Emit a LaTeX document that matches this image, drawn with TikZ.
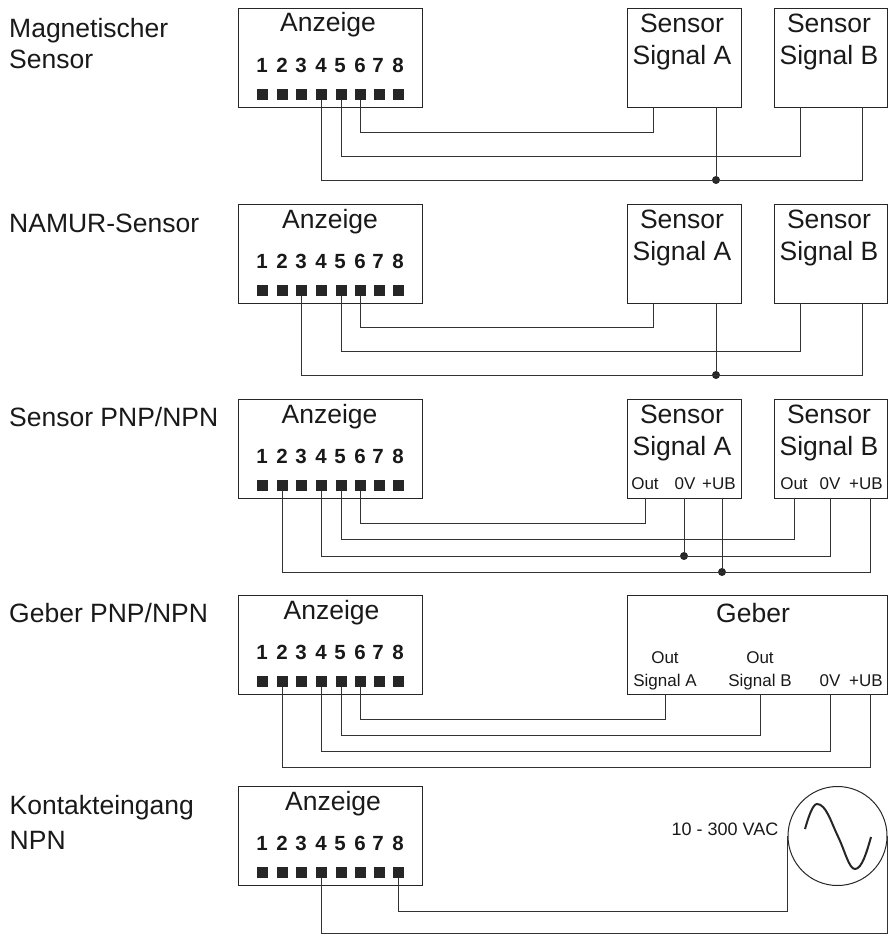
\documentclass[tikz,border=0pt]{standalone}
\usepackage{fontspec}
\setmainfont{Liberation Sans}
\tikzset{
  ink/.style={text=black!90},
  frame/.style={draw=black!85,line width=1pt,rectangle,inner sep=0pt,anchor=north west},
  pinbox/.style={fill=black!85,rectangle,minimum size=11pt,inner sep=0pt},
  wire/.style={draw=black!80,line width=1pt},
  dotmark/.style={fill=black!85,circle,minimum size=8pt,inner sep=0pt},
  big/.style={ink,inner sep=0pt,anchor=base,font=\fontsize{26.5}{30}\selectfont},
  side/.style={ink,inner sep=0pt,anchor=base west,font=\fontsize{26.5}{30}\selectfont},
  small/.style={ink,inner sep=0pt,anchor=base,font=\fontsize{17}{20}\selectfont},
  digit/.style={ink,inner sep=0pt,anchor=base,font=\fontsize{20.5}{24}\selectfont\bfseries},
}
% #1 prefix, #2 top, #3 centre of title
\newcommand{\anzeigebox}[3]{%
  \node[frame,minimum width=184pt,minimum height=99pt] (#1) at (238,#2) {};
  \node[big] (#1t) at (#3,#2+24) {Anzeige};
  \foreach \n/\x in {1/262,2/282,3/301,4/321,5/340,6/360,7/378,8/398}{
    \node[digit] (#1n\n) at (\x,#2+64) {\n};
  }
  \foreach \n/\x in {1/262,2/282,3/301,4/321,5/341,6/360,7/379,8/398}{
    \node[pinbox] (#1p\n) at (\x,#2+86) {};
  }%
}
% #1 name, #2 x, #3 top, #4 width, #5 letter, #6 text centre
\newcommand{\sensorbox}[6]{%
  \node[frame,minimum width=#4pt,minimum height=99pt] (#1) at (#2,#3) {};
  \node[big] (#1t) at (#6,#3+24.5) {Sensor};
  \node[big] (#1s) at (#6,#3+56) {Signal #5};
}
\begin{document}
\begin{tikzpicture}[x=1pt,y=-1pt]
\useasboundingbox (0,0) rectangle (888,934);
% side labels
\node[side] (l1a) at (9,38) {Magnetischer};
\node[side] (l1b) at (9,69) {Sensor};
\node[side] (l2) at (9,232) {NAMUR-Sensor};
\node[side] (l3) at (9,426) {Sensor PNP/NPN};
\node[side] (l4) at (9,622) {Geber PNP/NPN};
\node[side] (l5a) at (9.5,814) {Kontakteingang};
\node[side] (l5b) at (9.5,849) {NPN};
% panel 1
\anzeigebox{a1}{8}{328}
\sensorbox{sa1}{627}{8}{114}{A}{682}
\sensorbox{sb1}{774}{8}{113}{B}{829}
\coordinate (sa1o) at (653,107);
\coordinate (sa1z) at (716,107);
\coordinate (sb1o) at (800,107);
\coordinate (sb1z) at (862,107);
\node[dotmark] (j1) at (716,180) {};
\draw[wire] (a1p6) -- (a1p6 |- 0,132) -| (sa1o);
\draw[wire] (a1p5) -- (a1p5 |- 0,156) -| (sb1o);
\draw[wire] (a1p4) -- (a1p4 |- 0,180) -| (sb1z);
\draw[wire] (sa1z) -- (j1);
% panel 2
\anzeigebox{a2}{204}{330}
\sensorbox{sa2}{627}{204}{114}{A}{682}
\sensorbox{sb2}{774}{204}{113}{B}{829}
\coordinate (sa2o) at (653,303);
\coordinate (sa2z) at (716,303);
\coordinate (sb2o) at (800,303);
\coordinate (sb2z) at (862,303);
\node[dotmark] (j2) at (716,375) {};
\draw[wire] (a2p6) -- (a2p6 |- 0,327) -| (sa2o);
\draw[wire] (a2p5) -- (a2p5 |- 0,351) -| (sb2o);
\draw[wire] (a2p3) -- (a2p3 |- 0,375) -| (sb2z);
\draw[wire] (sa2z) -- (j2);
% panel 3
\anzeigebox{a3}{399}{329.5}
\sensorbox{sa3}{627}{399}{114}{A}{682}
\sensorbox{sb3}{774}{399}{113}{B}{829}
\node[small] (sa3l1) at (645,489) {Out};
\node[small] (sa3l2) at (685,489) {0V};
\node[small] (sa3l3) at (719,489) {+UB};
\node[small] (sb3l1) at (794,489) {Out};
\node[small] (sb3l2) at (830,489) {0V};
\node[small] (sb3l3) at (866,489) {+UB};
\coordinate (sa3o) at (645,498);
\coordinate (sa3z) at (684,498);
\coordinate (sa3u) at (722,498);
\coordinate (sb3o) at (794,498);
\coordinate (sb3z) at (830,498);
\coordinate (sb3u) at (870,498);
\node[dotmark] (j3a) at (684,556) {};
\node[dotmark] (j3b) at (722,572) {};
\draw[wire] (a3p6) -- (a3p6 |- 0,523) -| (sa3o);
\draw[wire] (a3p5) -- (a3p5 |- 0,539) -| (sb3o);
\draw[wire] (a3p4) -- (a3p4 |- 0,556) -| (sb3z);
\draw[wire] (a3p2) -- (a3p2 |- 0,572) -| (sb3u);
\draw[wire] (sa3z) -- (j3a);
\draw[wire] (sa3u) -- (j3b);
% panel 4
\anzeigebox{a4}{595}{331.5}
\node[frame,minimum width=260pt,minimum height=99pt] (g4) at (627,595) {};
\node[big] (g4t) at (753,622) {Geber};
\node[small] (g4l1) at (665,663) {Out};
\node[small] (g4l2) at (665,686) {Signal A};
\node[small] (g4l3) at (760,663) {Out};
\node[small] (g4l4) at (760,686) {Signal B};
\node[small] (g4l5) at (830,686) {0V};
\node[small] (g4l6) at (866,686) {+UB};
\coordinate (g4a) at (665,694);
\coordinate (g4b) at (760,694);
\coordinate (g4z) at (830,694);
\coordinate (g4u) at (870,694);
\draw[wire] (a4p6) -- (a4p6 |- 0,719) -| (g4a);
\draw[wire] (a4p5) -- (a4p5 |- 0,735) -| (g4b);
\draw[wire] (a4p4) -- (a4p4 |- 0,751) -| (g4z);
\draw[wire] (a4p2) -- (a4p2 |- 0,767) -| (g4u);
% panel 5
\anzeigebox{a5}{786}{333}
\node[draw=black!85,line width=1pt,circle,minimum size=99pt,inner sep=0pt] (ac) at (837.5,836) {};
\node[small,font=\fontsize{18}{20}\selectfont] (acl) at (725,835.5) {10 - 300 VAC};
\draw[draw=black!85,line width=2pt]
  (805,829) .. controls (809,815) and (813,804) .. (817,804)
  .. controls (826,804) and (831,822) .. (838,836.5)
  .. controls (845,851) and (849,869) .. (855,869)
  .. controls (862,869) and (867,851) .. (871,837);
\draw[wire] (a5p8) -- (a5p8 |- 0,911) -| (ac.west);
\draw[wire] (a5p4) -- (a5p4 |- 0,933) -| (ac.east);
\end{tikzpicture}
\end{document}
